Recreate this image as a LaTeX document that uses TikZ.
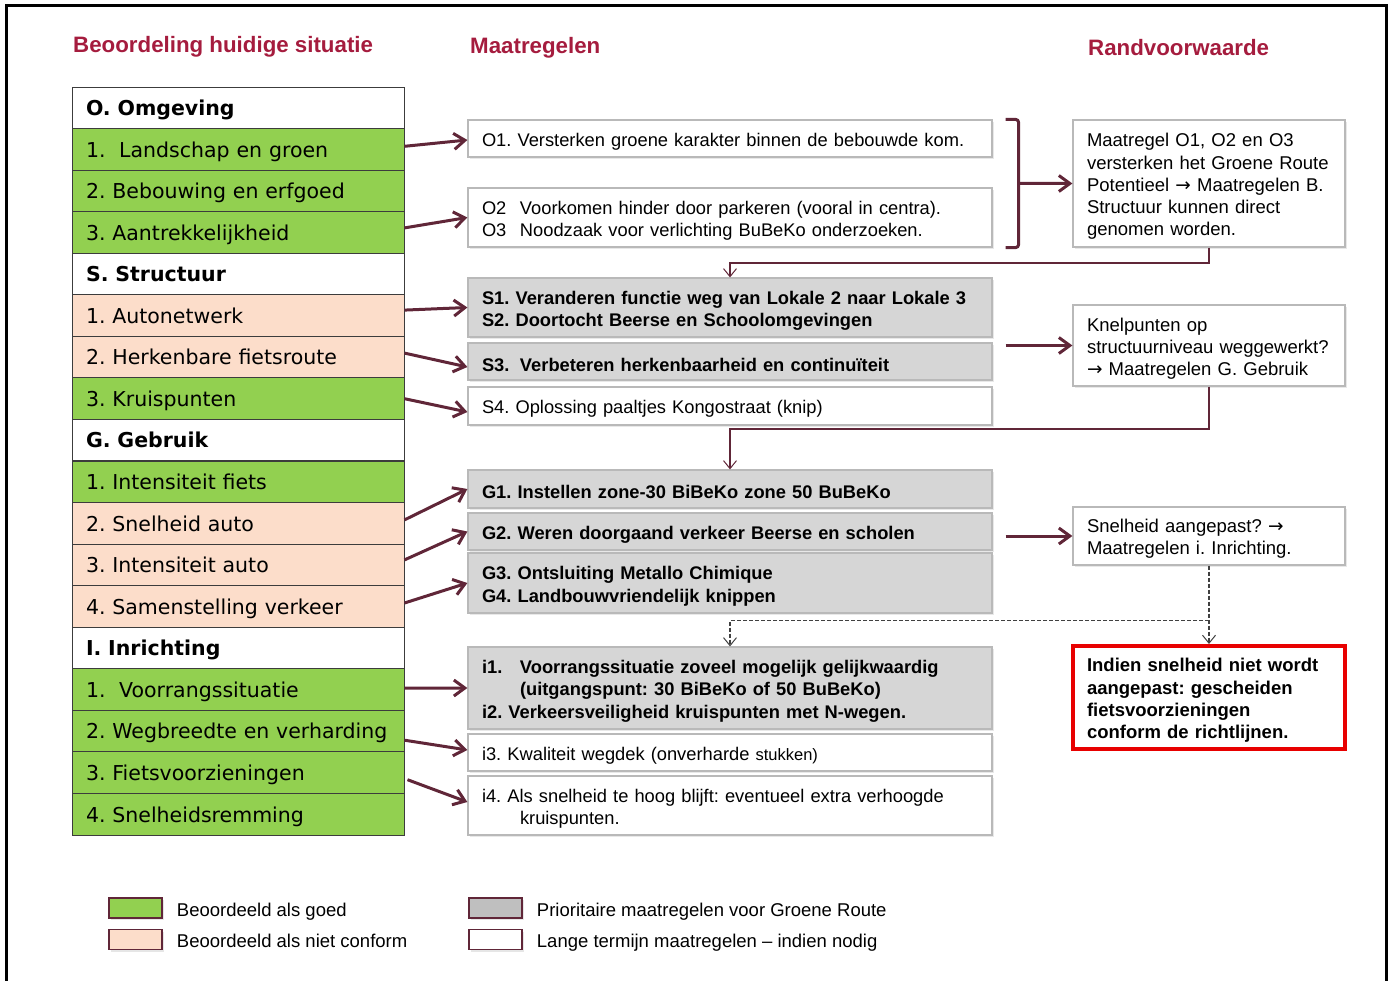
\documentclass[tikz,border=0pt]{standalone}
\usepackage{fontspec}
\setmainfont{Liberation Sans}
\newfontfamily\tablefont{DejaVu Sans}
\usepackage{xcolor}
\usepackage{tikz}
\usetikzlibrary{arrows.meta, positioning, calc, shadows}
\definecolor{titlecolor}{RGB}{165,28,62}
\definecolor{goodcolor}{RGB}{146,208,80}
\definecolor{badcolor}{RGB}{252,221,202}
\definecolor{priocolor}{RGB}{214,214,214}
\definecolor{legprio}{RGB}{191,191,191}
\definecolor{boxline}{RGB}{185,185,185}
\definecolor{tabline}{RGB}{60,60,60}
\definecolor{flowcolor}{RGB}{96,38,56}
\definecolor{alertred}{RGB}{232,0,0}
\newcommand{\boxfont}{\fontsize{18.5}{22.3}\selectfont}
\newcommand{\maatfont}{\fontsize{18.3}{22.3}\selectfont}
\newcommand{\tblfont}{\tablefont\fontsize{20.5}{24}\selectfont}
\newcommand{\thento}{{\tablefont →}}
\tikzset{
  colhead/.style={font=\bfseries\fontsize{22.3}{26}\selectfont, text=titlecolor,
                  anchor=west, inner sep=0pt},
  tabrow/.style={draw=tabline, line width=1pt, fill=#1, minimum height=41.56pt,
                 text width=304pt, inner xsep=14pt, align=left,
                 text height=17pt, text depth=1.5pt, font=\tblfont},
  tabrow/.default=white,
  tabhead/.style={tabrow, font=\tblfont\bfseries},
  maat/.style={draw=boxline, line width=1.2pt, fill=#1, text width=496pt,
               inner xsep=14pt, align=left, font=\maatfont,
               execute at begin node={\rule{0pt}{19.5pt}},
               drop shadow={opacity=0.18, shadow xshift=2pt, shadow yshift=-2pt}},
  maat/.default=white,
  prio/.style={maat=priocolor, font=\maatfont\bfseries},
  rand/.style={draw=boxline, line width=1.2pt, fill=white, text width=244pt,
               inner xsep=14pt, align=left, font=\boxfont,
               execute at begin node={\rule{0pt}{19.5pt}},
               drop shadow={opacity=0.18, shadow xshift=2pt, shadow yshift=-2pt}},
  randred/.style={draw=alertred, line width=4pt, fill=white, text width=244pt,
                  inner xsep=14pt, align=left, font=\boxfont\bfseries,
                  execute at begin node={\rule{0pt}{19.5pt}}},
  flow/.style={-{Straight Barb[length=11pt, width=16pt]}, line width=3pt,
               draw=flowcolor},
  bracket/.style={line width=3pt, draw=flowcolor, rounded corners=3pt},
  conn/.style={-{Straight Barb[length=8pt, width=13pt, line width=1pt]},
               line width=2pt, draw=flowcolor},
  dconn/.style={-{Straight Barb[length=8pt, width=13pt, line width=1pt]},
                line width=1.2pt, draw=black!75, dash pattern=on 4pt off 2pt},
  legbox/.style={draw=flowcolor, line width=1.5pt, fill=#1, minimum width=53pt,
                 minimum height=20pt, inner sep=0pt,
                 drop shadow={opacity=0.2, shadow xshift=2pt, shadow yshift=-2pt}},
  legtext/.style={font=\boxfont, inner sep=0pt, text height=17pt, text depth=1pt},
}

\begin{document}
\frenchspacing
\begin{tikzpicture}[x=1pt, y=-1pt]
  \useasboundingbox (0,0) rectangle (1394,981);
  \draw[line width=3pt] (6,981) -- (6,6) -- (1386,6) -- (1386,981);

  % Column titles
  \node[colhead] (hdbeoord) at (73,47) {Beoordeling huidige situatie};
  \node[colhead] (hdmaat) at (470,48) {Maatregelen};
  \node[colhead] (hdrand) at (1088,48) {Randvoorwaarde};

  % Beoordeling huidige situatie
  \node[tabhead] (omg) at (238,107.8) {O. Omgeving};
  \node[tabrow=goodcolor] (land) at (238,149.3) {1.~~Landschap en groen};
  \node[tabrow=goodcolor] (bebouw) at (238,190.9) {2. Bebouwing en erfgoed};
  \node[tabrow=goodcolor] (aantrek) at (238,232.4) {3. Aantrekkelijkheid};
  \node[tabhead] (struct) at (238,274.0) {S. Structuur};
  \node[tabrow=badcolor] (autonet) at (238,315.6) {1. Autonetwerk};
  \node[tabrow=badcolor] (herken) at (238,357.1) {2. Herkenbare fietsroute};
  \node[tabrow=goodcolor] (kruis) at (238,398.7) {3. Kruispunten};
  \node[tabhead] (gebruik) at (238,440.2) {G. Gebruik};
  \node[tabrow=goodcolor] (intfiets) at (238,481.8) {1. Intensiteit fiets};
  \node[tabrow=badcolor] (snelauto) at (238,523.4) {2. Snelheid auto};
  \node[tabrow=badcolor] (intauto) at (238,564.9) {3. Intensiteit auto};
  \node[tabrow=badcolor] (samen) at (238,606.5) {4. Samenstelling verkeer};
  \node[tabhead] (inricht) at (238,648.0) {I. Inrichting};
  \node[tabrow=goodcolor] (voorrang) at (238,689.6) {1.~~Voorrangssituatie};
  \node[tabrow=goodcolor] (wegbr) at (238,731.2)
    {\mbox{2. Wegbreedte en verharding}};
  \node[tabrow=goodcolor] (fietsv) at (238,772.7) {3. Fietsvoorzieningen};
  \node[tabrow=goodcolor] (remming) at (238,814.3) {4. Snelheidsremming};

  % Maatregelen
  \node[maat, minimum height=37pt] (o1) at (730,138.5)
    {O1. Versterken groene karakter binnen de bebouwde kom.};
  \node[maat, minimum height=59pt] (o23) at (730,217.5)
    {\makebox[38pt][l]{O2}Voorkomen hinder door parkeren (vooral in centra).\\
     \makebox[38pt][l]{O3}Noodzaak voor verlichting BuBeKo onderzoeken.};
  \node[prio, minimum height=59pt] (s12) at (730,307.5)
    {S1. Veranderen functie weg van Lokale 2 naar Lokale 3\\
     S2. Doortocht Beerse en Schoolomgevingen};
  \node[prio, minimum height=37pt] (s3) at (730,361.5)
    {\makebox[38pt][l]{S3.}Verbeteren herkenbaarheid en continuïteit};
  \node[maat, minimum height=38pt] (s4) at (730,406)
    {S4. Oplossing paaltjes Kongostraat (knip)};
  \node[prio, minimum height=38pt] (g1) at (730,489)
    {G1. Instellen zone-30 BiBeKo zone 50 BuBeKo};
  \node[prio, minimum height=37pt] (g2) at (730,531.5)
    {G2. Weren doorgaand verkeer Beerse en scholen};
  \node[prio, minimum height=60pt] (g34) at (730,583)
    {G3. Ontsluiting Metallo Chimique\\
     G4. Landbouwvriendelijk knippen};
  \node[prio, minimum height=82pt] (i12) at (730,688)
    {\makebox[38pt][l]{i1.}Voorrangssituatie zoveel mogelijk gelijkwaardig\\
     \hspace*{38pt}(uitgangspunt: 30 BiBeKo of 50 BuBeKo)\\
     i2. Verkeersveiligheid kruispunten met N-wegen.};
  \node[maat, minimum height=37pt] (i3) at (730,752.5)
    {i3. Kwaliteit wegdek (onverharde {\fontsize{16.5}{20}\selectfont stukken)}};
  \node[maat, minimum height=59pt] (i4) at (730,805.5)
    {i4. Als snelheid te hoog blijft: eventueel extra verhoogde\\
     \hspace*{38pt}kruispunten.};

  % Randvoorwaarde
  \node[rand, minimum height=127pt] (rvgroen) at (1209,183.5)
    {Maatregel O1, O2 en O3\\ versterken het Groene Route\\
     Potentieel \thento\ Maatregelen B.\\ Structuur kunnen direct\\ genomen worden.};
  \node[rand, minimum height=81pt] (rvknel) at (1209,345.5)
    {Knelpunten op\\ structuurniveau weggewerkt?\\ \thento\ Maatregelen G. Gebruik};
  \node[rand, minimum height=58pt] (rvsnel) at (1209,536)
    {Snelheid aangepast? \thento\\ Maatregelen i. Inrichting.};
  \node[randred, minimum height=103pt] (rvscheid) at (1209,697.5)
    {Indien snelheid niet wordt\\ aangepast: gescheiden\\ fietsvoorzieningen\\
     conform de richtlijnen.};

  % Beoordeling -> maatregelen
  \draw[flow] ([yshift=3pt]land.east) -- ([yshift=-1.5pt]o1.west);
  \draw[flow] ([yshift=4.5pt]aantrek.east) -- (o23.west);
  \draw[flow] ([yshift=5.5pt]autonet.east) -- (s12.west);
  \draw[flow] ([yshift=4pt]herken.east) -- ([yshift=-5.5pt]s3.west);
  \draw[flow] (kruis.east) -- ([yshift=-6pt]s4.west);
  \draw[flow] ([yshift=3.5pt]snelauto.east) -- (g1.west);
  \draw[flow] ([yshift=5pt]intauto.east) -- (g2.west);
  \draw[flow] ([yshift=3.5pt]samen.east) -- (g34.west);
  \draw[flow] ([yshift=1.5pt]voorrang.east) -- (i12.west);
  \draw[flow] ([yshift=-9pt]wegbr.east) -- ([yshift=2.5pt]i3.west);
  \draw[flow] ([yshift=-7pt,xshift=3pt]fietsv.east) -- ([yshift=3.5pt]i4.west);

  % Maatregelen -> randvoorwaarde
  \draw[bracket] (o1.north east) ++(13,0) -- ++(13,0)
    -- ([xshift=26pt]o23.south east) -- ++(-13,0);
  \coordinate (brmid) at ($(o1.north east)!0.5!(o23.south east)+(26,0)$);
  \coordinate (knelin) at ($(s12.east |- rvknel.west)+(13,0)$);
  \coordinate (snelin) at ($(g2.east |- rvsnel.west)+(13,0)$);
  \draw[flow] (brmid) -- (rvgroen.west);
  \draw[flow] (knelin) -- (rvknel.west);
  \draw[flow] (snelin) -- (rvsnel.west);

  % Randvoorwaarde -> volgende maatregelen
  \draw[conn] (rvgroen.south) -- ++(0,15) -| (s12.north);
  \draw[conn] (rvknel.south) -- ++(0,42) -| (g1.north);
  \coordinate (split) at ($(rvsnel.south)+(0,55)$);
  \draw[dconn] (rvsnel.south) -- (rvscheid.north);
  \draw[dconn] (split) -| (i12.north);

  % Legend
  \node[legbox=goodcolor] (leggood) at (135.5,908) {};
  \node[legbox=badcolor] (legbad) at (135.5,939.5) {};
  \node[legbox=legprio] (legprio) at (495.5,908) {};
  \node[legbox=white] (leglong) at (495.5,939.5) {};
  \node[legtext, right=14pt of leggood] (leggoodtxt) {Beoordeeld als goed};
  \node[legtext, right=14pt of legbad] (legbadtxt) {Beoordeeld als niet conform};
  \node[legtext, right=14pt of legprio] (legpriotxt)
    {Prioritaire maatregelen voor Groene Route};
  \node[legtext, right=14pt of leglong] (leglongtxt)
    {Lange termijn maatregelen – indien nodig};

\end{tikzpicture}
\end{document}
